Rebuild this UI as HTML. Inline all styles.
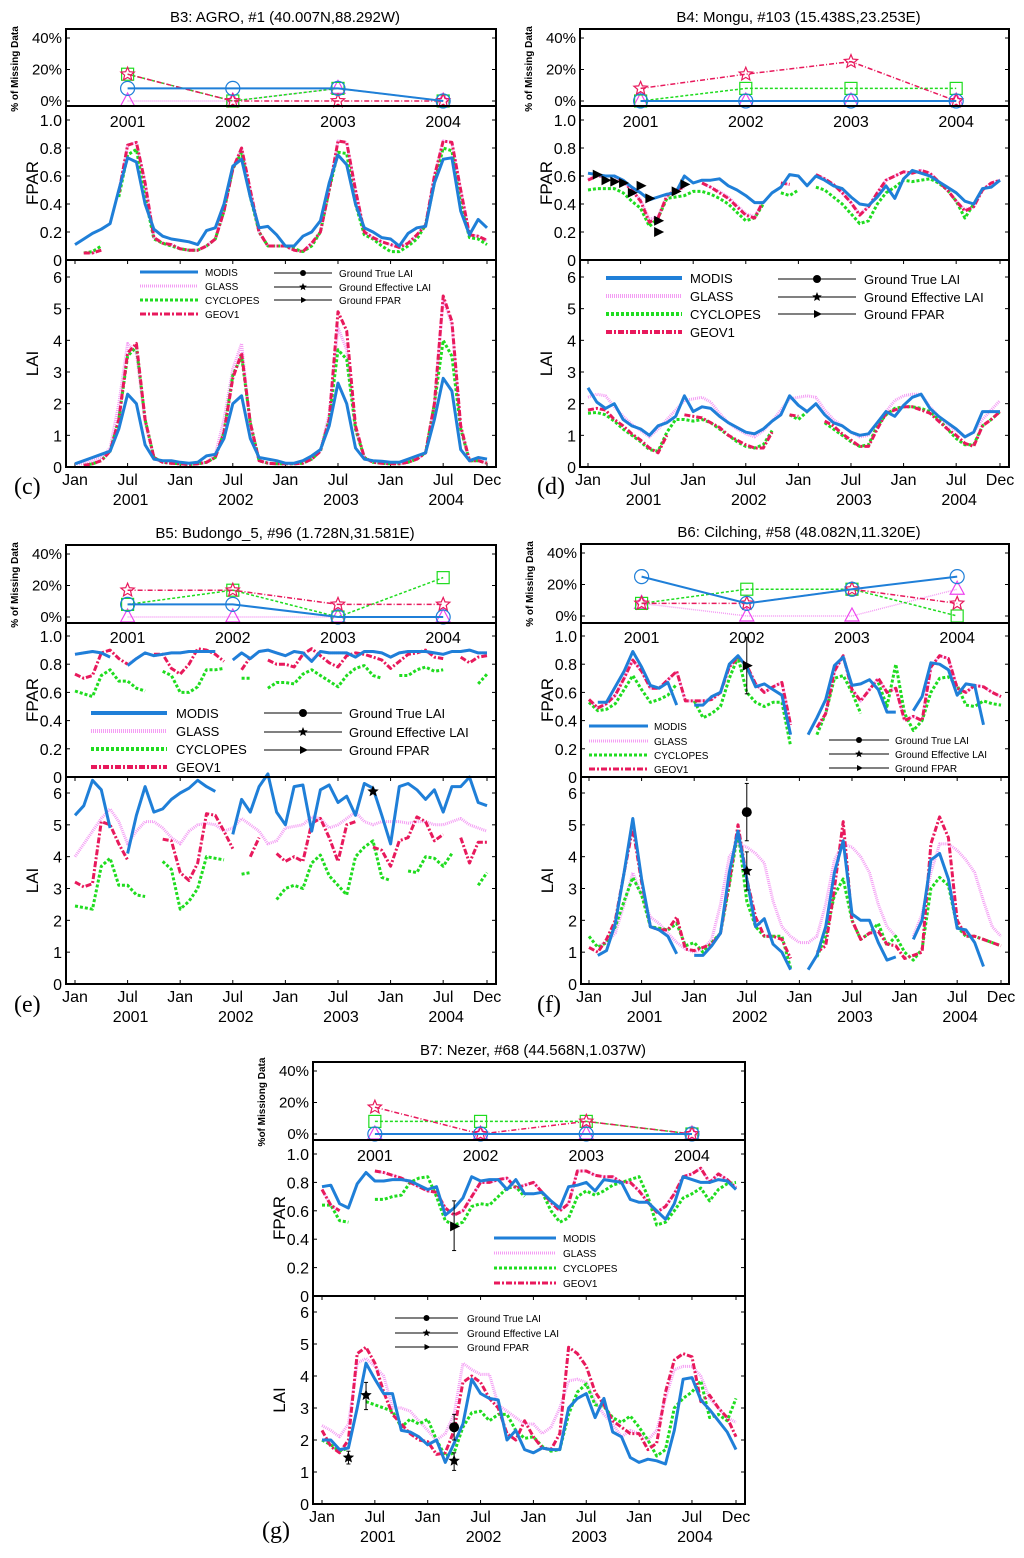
<!DOCTYPE html>
<html><head><meta charset="utf-8"><style>
html,body{margin:0;padding:0;background:#fff;}
svg{display:block;font-family:"Liberation Sans",Arial,sans-serif;}
</style></head><body>
<svg id="fig" width="1024" height="1558" viewBox="0 0 1024 1558" xmlns="http://www.w3.org/2000/svg"></svg>
<script>
// ---------- shared tick labels ----------
const monthLabels = ['Jan','Jul','Jan','Jul','Jan','Jul','Jan','Jul','Dec'];
const monthIdx = [0,6,12,18,24,30,36,42,47];
const yearLabels = ['2001','2002','2003','2004'];
const fparTicks = [0,0.2,0.4,0.6,0.8,1.0];
const fparTickLabels = ['0','0.2','0.4','0.6','0.8','1.0'];
const laiTicks = [0,1,2,3,4,5,6];
const laiTickLabels = ['0','1','2','3','4','5','6'];
const missTicks = [0,20,40];
const missTickLabels = ['0%','20%','40%'];
const seriesNames = ['MODIS','GLASS','CYCLOPES','GEOV1'];
const groundNames = ['Ground True LAI','Ground Effective LAI','Ground FPAR'];
const N = null;

// ---------- panel (c) B3 AGRO ----------
const c_miss_modis=[8,8,8,0], c_miss_glass=[0,0,8,0], c_miss_cyc=[17,0,8,0], c_miss_geo=[17,0,0,0];
const c_fpar_modis=[.11,.15,.19,.22,.26,.5,.73,.7,.4,.22,.17,.15,.14,.13,.11,.21,.23,.4,.67,.72,.45,.23,.24,.18,.1,.1,.17,.2,.28,.55,.75,.68,.4,.23,.2,.16,.15,.1,.19,.23,.24,.55,.72,.73,.35,.18,.29,.23];
const c_fpar_glass=[N,.05,.05,.07,N,.48,.82,.84,.55,.16,.12,.11,.08,.07,.07,.1,.15,.35,.65,.8,.5,.2,.1,.1,.1,.07,.06,.12,.2,.5,.85,.84,.5,.2,.16,.13,.11,.09,.12,.18,.25,.6,.85,.84,.5,.18,.17,.14];
const c_fpar_cyc=[N,.05,.06,.1,N,.45,.75,.79,.45,.15,.12,.1,.08,.07,.07,.1,.15,.35,.65,.77,.45,.2,.1,.1,.1,.08,.06,.1,.2,.5,.77,.76,.4,.18,.15,.1,.06,.06,.1,.15,.25,.55,.8,.78,.4,.16,.15,.11];
const c_fpar_geo=[N,.05,.05,.07,N,.48,.82,.84,.55,.16,.12,.11,.08,.07,.07,.1,.15,.35,.65,.8,.5,.2,.1,.1,.1,.07,.06,.12,.2,.5,.85,.84,.5,.2,.16,.13,.11,.09,.12,.18,.25,.6,.85,.84,.5,.18,.17,.14];
const c_lai_modis=[.1,.2,.3,.4,.5,1.2,2.3,2,.7,.25,.2,.2,.15,.12,.15,.35,.4,.9,2,2.25,.9,.3,.25,.2,.12,.12,.2,.35,.55,1.3,2.65,2,.6,.25,.2,.18,.15,.15,.25,.35,.45,1.5,2.8,2.4,.55,.2,.3,.25];
const c_lai_glass=[.1,.1,.2,.3,.6,2,3.9,3.6,1.4,.3,.15,.12,.1,.08,.1,.15,.4,1.5,3.1,3.9,1.3,.2,.12,.1,.1,.1,.12,.25,.5,1.7,4.4,3.7,1.2,.3,.15,.12,.1,.1,.15,.25,.45,2,5.3,4.5,1.2,.2,.2,.12];
const c_lai_cyc=[N,.05,.1,.2,.5,1.5,3.5,3.8,1.5,.3,.15,.12,.1,.08,.1,.15,.3,1.1,2.9,3.5,1.4,.2,.12,.1,.1,.1,.12,.25,.5,1.5,3.7,3.4,1.2,.3,.15,.12,.1,.1,.15,.25,.45,2,4,3.5,1.2,.2,.2,.12];
const c_lai_geo=[N,.05,.1,.2,.5,1.5,3.6,3.9,1.5,.3,.15,.12,.1,.08,.1,.15,.3,1.1,2.8,3.6,1.4,.2,.12,.1,.1,.1,.12,.25,.5,1.5,4.9,4.3,1.3,.3,.15,.12,.1,.1,.15,.25,.45,2,5.4,4.6,1.3,.2,.2,.12];

// ---------- panel (d) B4 Mongu ----------
const d_miss_modis=[0,0,0,0], d_miss_glass=[0,0,0,0], d_miss_cyc=[0,8,8,8], d_miss_geo=[8,17,25,0];
const d_fpar_modis=[.62,.61,.6,.6,.57,.52,.48,.43,.45,.47,.48,.6,.55,.57,.57,.58,.53,.5,.46,.41,.41,.48,.52,.61,.6,.53,.6,.57,.53,.51,.45,.4,.39,.45,.53,.44,.58,.64,.62,.6,.56,.52,.48,.42,.4,.51,.52,.57];
const d_fpar_glass=[.58,.6,.6,.6,.56,.5,.43,.29,.31,.46,.5,.52,N,.55,.52,.49,.45,.39,.33,.31,.42,N,.55,.54,N,N,.61,.58,.54,.48,.41,.33,.38,.48,.57,.6,.63,.62,.64,.62,.56,.5,.42,.36,.38,.5,.55,.57];
const d_fpar_cyc=[.5,.51,.51,.51,.48,.42,.37,.24,.3,.44,.45,.46,.49,.49,.47,.44,.4,.34,.28,.3,.4,N,.48,.46,.5,N,.52,.5,.45,.4,.33,.26,.28,.4,.48,.52,.57,.56,.57,.58,.55,.5,.42,.3,.4,N,N,N];
const d_fpar_geo=[.57,.6,.6,.6,.56,.5,.42,.27,.3,.46,.5,.52,N,.55,.52,.48,.44,.38,.32,.3,.42,N,.55,.54,N,N,.61,.58,.54,.48,.41,.32,.38,.48,.57,.6,.63,.62,.64,.62,.56,.5,.42,.35,.38,.5,.55,.57];
const d_lai_modis=[2.5,2.05,1.85,2,1.5,1.3,1.2,1,1.3,1.4,1.6,2.25,1.75,1.9,1.85,1.6,1.4,1.25,1.1,1.05,1.2,1.45,1.65,2.25,1.95,1.75,2,1.65,1.4,1.3,1.1,1,1.05,1.4,1.75,1.6,1.95,2.2,2.3,1.85,1.6,1.4,1.2,.95,1.1,1.75,1.75,1.75];
const d_lai_glass=[2.2,2.3,2.25,1.9,1.6,1.35,1.15,.95,1.2,1.5,1.8,2.1,2.15,2.2,2.05,1.7,1.4,1.2,1.05,.95,1.15,1.45,1.8,2.15,2.2,2.25,2.2,1.8,1.5,1.3,1.1,.95,1,1.4,1.75,2.1,2.25,2.3,2.3,1.9,1.6,1.35,1.15,.95,1.1,1.5,1.8,2.1];
const d_lai_cyc=[1.7,1.72,1.65,1.45,1.2,1,.8,.55,.5,1.1,1.5,1.5,1.45,1.5,1.4,1.2,1,.8,.65,.6,.7,1.15,N,1.65,1.5,1.75,N,1.4,1.2,1,.8,.65,.7,1.3,1.65,1.85,1.9,1.9,1.85,1.75,1.5,1.2,.9,.7,.7,1.3,1.5,1.75];
const d_lai_geo=[1.8,1.85,1.8,1.5,1.3,1.05,.85,.6,.45,1,N,1.65,1.6,1.55,1.4,1.25,1,.85,.7,.6,.6,1.1,N,1.65,1.6,N,N,1.45,1.3,1.05,.85,.65,.65,1.2,1.7,1.8,1.9,1.9,1.8,1.7,1.45,1.2,1,.75,.65,1.3,1.5,1.75];
const d_gfpar_month=[1,2,3,4,5,6,7,8,8,10,11];
const d_gfpar_val=[.61,.57,.56,.55,.48,.53,.44,.28,.2,.49,.54];

// ---------- panel (e) B5 Budongo_5 ----------
const e_miss_modis=[8,8,0,0], e_miss_glass=[0,0,0,0], e_miss_cyc=[8,17,0,25], e_miss_geo=[17,17,8,8];
const e_fpar_modis=[.87,.88,.89,.88,.85,N,.79,.84,.88,.86,.87,.88,.88,.89,.89,.89,.89,N,.83,.88,.84,.89,.9,.88,.86,.89,.88,.82,.89,.88,.88,.88,.85,.89,.89,.88,.85,.88,.89,.89,.89,.88,.87,.89,.89,.9,.88,.88];
const e_fpar_glass=[.87,.88,.89,.88,.85,N,.8,.84,.88,.86,.87,.88,.88,.89,.89,.89,.89,N,.83,.88,.84,.89,.9,.88,.86,.89,.88,.83,.89,.88,.88,.88,.85,.89,.89,.88,.85,.88,.89,.89,.89,.88,.87,.89,.89,.9,.88,.88];
const e_fpar_cyc=[.61,.59,.57,.72,.76,.68,.68,.63,.61,N,.75,.72,.6,.6,.64,.76,.76,.77,N,.7,.7,N,.63,.67,.67,.66,.73,.76,.72,.68,.64,.72,.77,.79,.72,.7,N,.72,.72,.76,.78,.75,.76,N,N,N,.66,.73];
const e_fpar_geo=[.73,.7,.72,.88,.9,.84,.8,N,N,.87,.87,.77,.73,.8,.91,.9,.87,.82,N,.76,.85,N,.83,.8,.8,.78,.87,.91,.86,.81,.78,.86,.88,.87,.85,.83,.77,.82,.87,.88,.9,.85,.84,N,.85,.81,.85,.86];
const e_lai_modis=[5.3,5.6,6.4,6.1,4.9,N,4.1,5.3,6.2,5.4,5.5,5.8,6,6.15,6.4,6.2,6.05,N,4.7,5.8,5.4,6.2,6.6,5.4,5,6.2,6.25,4.8,6.1,6.25,5.7,5.9,5.3,6.3,6.15,5.3,4.4,6.2,6.3,6.1,5.8,6.1,5.4,6.2,6.2,6.5,5.7,5.6];
const e_lai_glass=[4,4.4,4.8,5.2,5.5,5.1,4.4,4.8,5.1,5.1,4.9,4.6,4.4,4.8,5,5.05,5,4.8,4.9,5.2,5,4.8,4.4,4.5,4.9,4.95,5,5.25,5.2,4.9,5,5.2,5.4,5.1,5,5.1,5.1,5.1,5.05,5.1,5.1,5,5,5.1,5.2,5,4.9,4.8];
const e_lai_cyc=[2.45,2.4,2.35,3.7,3.95,3.1,3.1,2.8,2.75,N,3.85,3.6,2.35,2.6,3,4,3.95,3.9,N,3.45,3.5,N,N,2.65,3,3.1,3,3.8,4.05,3.4,3.1,2.8,4,4.3,4.5,3.35,3.25,N,3.55,3.5,4,3.95,3.7,4.1,N,N,3.1,3.5];
const e_lai_geo=[3.2,3.05,3.15,5.1,5,4.4,3.9,N,N,N,4.55,4.5,3.5,3.25,3.8,5.35,5.3,4.8,4.25,N,4,4.6,N,4.1,3.85,4,3.85,5.05,5.2,4.6,3.85,5,5.1,N,4.3,4.2,3.7,4.5,4.6,5.25,5.1,4.5,4.7,N,4.6,3.8,4.45,4.45];
const e_geff_month=[34], e_geff_val=[6.05];

// ---------- panel (f) B6 Cilching ----------
const f_miss_modis=[25,8,17,25], f_miss_glass=[8,0,0,17], f_miss_cyc=[8,17,17,0], f_miss_geo=[8,8,17,8];
const f_fpar_modis=[N,.53,.53,.64,.75,.89,.78,.65,.63,.67,.51,N,.51,.51,.57,.6,.8,.86,.78,.64,.66,.62,.58,.3,N,.3,.42,.55,.79,.85,.65,.66,.69,.62,.46,.46,N,.47,.57,.81,.8,.76,.58,.66,.65,.37,N,N];
const f_fpar_glass=[.55,.49,.52,.58,.7,.83,.75,.63,.63,.69,.75,.54,.54,.54,.55,.6,.78,.85,.79,.66,.6,.64,.67,.37,N,N,.35,.45,.75,.86,.62,.54,.62,.7,.6,.63,.4,.43,.4,.78,.86,.84,.63,.6,.65,.64,.6,.57];
const f_fpar_cyc=[.53,.47,.48,.52,.62,.72,.62,.53,.55,.58,.66,N,.54,.42,.45,.5,.7,.85,.6,.53,.5,.53,.53,.22,N,N,.3,.45,.7,.72,.6,.45,N,.67,.5,.8,.45,.33,.4,.6,.7,.71,.65,.51,.5,.54,.52,.51];
const f_fpar_geo=[.55,.49,.52,.58,.7,.83,.75,.63,.63,.69,.75,.54,.54,.54,.55,.6,.78,.85,.79,.66,.6,.64,.67,.37,N,N,.35,.45,.75,.86,.62,.54,.62,.7,.6,.63,.4,.43,.4,.78,.86,.84,.63,.6,.65,.64,.6,.57];
const f_lai_modis=[N,.9,1.05,1.9,3.5,5.2,3.3,1.8,1.7,1.5,.95,N,.9,.9,1.2,1.6,3.5,4.8,3.3,1.8,2.05,1.25,1,.45,N,.45,.9,1.8,3.5,4.5,2.2,2,2,1.3,.75,.85,N,1.4,2,3.9,4.1,3.3,1.75,1.7,1.3,.55,N,N];
const f_lai_glass=[N,1.2,1.3,1.6,2.5,3.5,2.8,2.1,1.9,1.6,1.3,1.1,1,1.1,1.4,2.5,4,4.4,4.3,4.1,3.8,2.6,1.8,1.5,1.3,1.3,1.5,2.5,3.9,4.4,4.3,4,3.5,2.5,1.8,1.5,N,1.5,2.2,3.5,4.4,4.4,4.2,3.9,3.5,2.6,1.8,1.5];
const f_lai_cyc=[1.5,1.15,1.3,1.8,2.6,3.35,2.8,1.8,1.75,1.7,1.9,1.2,1.3,1,1.3,1.6,3.1,4.8,2.6,1.8,1.5,1.5,1.5,.5,N,N,.85,1.5,2.8,3.3,2,1.4,1.6,1.9,1.2,1.5,1,.75,1.1,3,3.35,3.1,1.8,1.5,1.5,1.4,1.3,1.2];
const f_lai_geo=[1.15,1,1.4,2,3.5,4.9,3.2,1.8,1.7,1.7,2.1,1.1,1.05,1.15,1.25,1.6,3.2,5,3.3,2.1,1.5,1.5,1.4,.8,N,N,1,1.2,3,5.1,2,1.4,1.6,1.65,1.25,1.2,.8,.9,1,4.4,5.25,4.6,2,1.5,1.5,1.4,1.3,1.2];
const f_gtrue_month=[18], f_gtrue_val=[5.4], f_gtrue_lo=[4.5], f_gtrue_hi=[6.3];
const f_geff_month=[18], f_geff_val=[3.55], f_geff_lo=[2.95], f_geff_hi=[4.15];
const f_gfpar_month=[18], f_gfpar_val=[.79], f_gfpar_lo=[.59], f_gfpar_hi=[.99];

// ---------- panel (g) B7 Nezer ----------
const g_miss_modis=[0,0,0,0], g_miss_glass=[0,0,0,0], g_miss_cyc=[8,8,8,0], g_miss_geo=[17,0,8,0];
const g_fpar_modis=[.77,.78,.65,.62,.79,.87,.81,.81,.82,.82,.81,.78,.75,.77,.57,.62,.69,.84,.81,.82,.82,.75,.82,.72,.72,.73,.67,.62,.77,.78,.8,.74,.82,.81,.8,.68,.66,.66,.6,.54,.65,.84,.82,.8,.8,.82,.81,.75];
const g_fpar_glass=[.75,.64,.6,N,N,N,.88,.87,.85,.83,.8,.77,.74,.73,.62,.57,.6,.7,.8,.8,.82,.83,.76,.78,.8,.73,.66,.6,.65,.88,.88,.85,.84,.84,.8,.8,.74,.66,.59,.63,.72,.84,.86,.9,.8,.86,.82,.76];
const g_fpar_cyc=[.64,.64,.53,.52,N,N,.68,.68,.7,.71,.8,.83,.84,.7,.53,.5,.52,.63,.65,.64,.7,.76,.77,.7,N,.73,.6,.52,.55,.7,.74,.71,.74,.78,.8,.82,.84,.7,.5,.52,.6,.69,.72,.76,.67,.75,.79,.8];
const g_fpar_geo=[.75,.64,.6,N,N,N,.88,.87,.85,.83,.8,.77,.74,.73,.62,.57,.6,.7,.8,.8,.82,.83,.76,.78,.8,.73,.66,.6,.65,.88,.88,.85,.84,.84,.8,.8,.74,.66,.59,.63,.72,.84,.86,.9,.8,.86,.82,.76];
const g_lai_modis=[2,2,1.7,1.75,3,4.4,3.9,3.45,3.45,2.3,2.25,2.1,1.85,2,1.3,1.9,2.5,3.9,3.45,3.3,3.25,2,2.3,1.7,1.6,1.75,1.7,1.7,3,3.3,3.45,2.7,3.3,2.25,2.1,1.45,1.3,1.4,1.35,1.25,2.3,3.9,3.95,3.25,2.95,2.6,2.25,1.7];
const g_lai_glass=[2.45,2.3,2.1,2.5,4.4,4.55,4.3,4,3,3,2.9,2.6,2.3,2,2.2,2.8,4.4,4.2,4.05,4.05,3.1,2.9,2.7,2.5,2.5,2.2,2.4,3,3.85,3.9,3.8,3.2,2.8,2.5,2.1,2.3,2.2,2,2.3,3.3,4.2,4.3,4.3,4,3.3,3,2.7,2.55];
const g_lai_cyc=[2,1.85,1.65,1.75,N,3.2,3.1,3,2.9,2.4,2.65,2.5,2.65,2,1.5,1.6,2.4,2.85,2.9,2.6,2.8,2.8,2.3,2.05,2.1,1.8,1.65,1.7,2.8,3.5,3.75,3.1,3.05,2.7,2.55,2.75,2.4,2,1.5,1.7,3,3.3,3.5,3.85,2.7,2.8,2.6,3.3];
const g_lai_geo=[2.3,1.8,1.6,2,4.7,4.9,4.4,3.5,2.8,2.5,2.2,2,1.95,1.55,1.6,2.3,3.8,4,3.8,3.3,3,2.2,2,2.6,2.1,1.75,1.7,2.2,4.9,4.7,4.3,3.5,3.1,2.6,2.4,2.2,2.2,1.7,1.9,3.5,4.5,4.7,4.6,3.2,3.4,3,2.7,2.1];
const g_geff_month=[3,5,15], g_geff_val=[1.45,3.4,1.35], g_geff_lo=[1.25,2.95,1.05], g_geff_hi=[1.65,3.8,1.6];
const g_gtrue_month=[15], g_gtrue_val=[2.4], g_gtrue_lo=[2], g_gtrue_hi=[2.8];
const g_gfpar_month=[15], g_gfpar_val=[.49], g_gfpar_lo=[.32], g_gfpar_hi=[.67];

// ---------- rendering ----------
const svg=document.getElementById('fig');
const NS='http://www.w3.org/2000/svg';
function mk(tag,attrs,parent,text){const e=document.createElementNS(NS,tag);for(const k in attrs)e.setAttribute(k,attrs[k]);if(text!==undefined)e.textContent=text;(parent||svg).appendChild(e);return e;}
const STY=[
 {stroke:'#1f7fd8',w:3,dash:''},
 {stroke:'#f49cf4',w:3,dash:'1,1'},
 {stroke:'#1fdc1f',w:3,dash:'3,2'},
 {stroke:'#e8195c',w:3,dash:'6,2,2,2'}
];
function pathFrom(vals,xf,yf){let d='',pen=false;vals.forEach((v,i)=>{if(v===null||v===undefined){pen=false;return;}d+=(pen?'L':'M')+xf(i).toFixed(1)+','+yf(v).toFixed(1);pen=true;});return d;}
function star(cx,cy,r){let p=[];for(let k=0;k<10;k++){const a=-Math.PI/2+k*Math.PI/5;const rr=k%2?r*0.45:r;p.push((cx+rr*Math.cos(a)).toFixed(1)+','+(cy+rr*Math.sin(a)).toFixed(1));}return p.join(' ');}

const panels=[
 {id:'c',title:'B3: AGRO, #1 (40.007N,88.292W)',L:66,R:496,T:29,hM:77,hF:154,hL:207,x0:75,x1:487,dF:91,dL:248,letter:[14,494],
  miss:[c_miss_modis,c_miss_glass,c_miss_cyc,c_miss_geo],fpar:[c_fpar_modis,c_fpar_glass,c_fpar_cyc,c_fpar_geo],lai:[c_lai_modis,c_lai_glass,c_lai_cyc,c_lai_geo],
  leg:{fs:10,x1:140,x2:198,tx:205,ys:[272,286,300,314]},gleg:{fs:10,x1:274,x2:332,tx:339,ys:[273,287,300]}},
 {id:'d',title:'B4: Mongu, #103 (15.438S,23.253E)',L:580,R:1009,T:29,hM:77,hF:154,hL:207,x0:588,x1:1000,dF:91,dL:248,letter:[537,494],
  miss:[d_miss_modis,d_miss_glass,d_miss_cyc,d_miss_geo],fpar:[d_fpar_modis,d_fpar_glass,d_fpar_cyc,d_fpar_geo],lai:[d_lai_modis,d_lai_glass,d_lai_cyc,d_lai_geo],
  leg:{fs:13,x1:606,x2:682,tx:690,ys:[278,296,314,332]},gleg:{fs:13,x1:778,x2:856,tx:864,ys:[279,297,314]},
  gfpar:{m:d_gfpar_month,v:d_gfpar_val}},
 {id:'e',title:'B5: Budongo_5, #96 (1.728N,31.581E)',L:66,R:496,T:545,hM:78,hF:154,hL:207,x0:75,x1:487,dF:91,dL:248,letter:[14,1012],
  miss:[e_miss_modis,e_miss_glass,e_miss_cyc,e_miss_geo],fpar:[e_fpar_modis,e_fpar_glass,e_fpar_cyc,e_fpar_geo],lai:[e_lai_modis,e_lai_glass,e_lai_cyc,e_lai_geo],
  leg:{fs:13,x1:91,x2:167,tx:176,ys:[713,731,749,767]},gleg:{fs:13,x1:264,x2:342,tx:349,ys:[713,732,750]},
  geff:{m:e_geff_month,v:e_geff_val}},
 {id:'f',title:'B6: Cilching, #58 (48.082N,11.320E)',L:581,R:1009,T:544,hM:79,hF:154,hL:207,x0:589,x1:1001,dF:92,dL:249,letter:[537,1012],
  miss:[f_miss_modis,f_miss_glass,f_miss_cyc,f_miss_geo],fpar:[f_fpar_modis,f_fpar_glass,f_fpar_cyc,f_fpar_geo],lai:[f_lai_modis,f_lai_glass,f_lai_cyc,f_lai_geo],
  leg:{fs:10,x1:589,x2:648,tx:654,ys:[726,741,755,769]},gleg:{fs:10,x1:829,x2:889,tx:895,ys:[740,754,768]},
  gtrue:{m:f_gtrue_month,v:f_gtrue_val,lo:f_gtrue_lo,hi:f_gtrue_hi},geff:{m:f_geff_month,v:f_geff_val,lo:f_geff_lo,hi:f_geff_hi},gfpar:{m:f_gfpar_month,v:f_gfpar_val,lo:f_gfpar_lo,hi:f_gfpar_hi}},
 {id:'g',title:'B7: Nezer, #68 (44.568N,1.037W)',L:313,R:745,T:1062,hM:78,hF:156,hL:208,x0:322,x1:736,dF:92,dL:250,letter:[262,1538],missLabel:'%of Missiong Data',
  miss:[g_miss_modis,g_miss_glass,g_miss_cyc,g_miss_geo],fpar:[g_fpar_modis,g_fpar_glass,g_fpar_cyc,g_fpar_geo],lai:[g_lai_modis,g_lai_glass,g_lai_cyc,g_lai_geo],
  leg:{fs:10,x1:494,x2:556,tx:563,ys:[1238,1253,1268,1283]},gleg:{fs:10,x1:395,x2:458,tx:467,ys:[1318,1333,1347]},
  gtrue:{m:g_gtrue_month,v:g_gtrue_val,lo:g_gtrue_lo,hi:g_gtrue_hi},geff:{m:g_geff_month,v:g_geff_val,lo:g_geff_lo,hi:g_geff_hi},gfpar:{m:g_gfpar_month,v:g_gfpar_val,lo:g_gfpar_lo,hi:g_gfpar_hi}}
];

function groundMark(g,type,x,y,r){
  if(type==='true')return mk('circle',{cx:x,cy:y,r:r,fill:'#000'},g);
  if(type==='eff')return mk('polygon',{points:star(x,y,r+1),fill:'#000'},g);
  return mk('polygon',{points:`${x-r+1},${y-r} ${x+r+1},${y} ${x-r+1},${y+r}`,fill:'#000'},g);
}
function drawGround(g,obj,type,xf,yf){
  if(!obj)return;
  obj.m.forEach((m,i)=>{
    const x=xf(m),y=yf(obj.v[i]);
    if(obj.lo){const y1=yf(obj.lo[i]),y2=yf(obj.hi[i]);
      mk('line',{x1:x,x2:x,y1:y1,y2:y2,stroke:'#000','stroke-width':1},g);
      mk('line',{x1:x-2,x2:x+2,y1:y1,y2:y1,stroke:'#000','stroke-width':1},g);
      mk('line',{x1:x-2,x2:x+2,y1:y2,y2:y2,stroke:'#000','stroke-width':1},g);}
    const el=groundMark(g,type,x,y,5);
    
    
  });
}

panels.forEach(p=>{
  const g=mk('g',{});
  
  
  const B0=p.T+p.hM, B1=B0+p.hF, B2=B1+p.hL;
  const xf=i=>p.x0+(p.x1-p.x0)*i/47;
  const yM=v=>p.T+72-v/40*63;
  const yF=v=>B1-v*(B1-(p.T+p.dF));
  const yL=v=>B2-v/6*(B2-(p.T+p.dL));
  const cx=(p.L+p.R)/2;
  const t=mk('text',{x:cx+4,y:p.T-7,'text-anchor':'middle','font-size':15},g,p.title);
  
  
  // clip
  const cid='clip'+p.id;
  const cp=mk('clipPath',{id:cid},g);mk('rect',{x:p.L,y:p.T,width:p.R-p.L,height:B2-p.T},cp);
  // left ticks labels
  missTicks.forEach((v,i)=>{mk('text',{x:p.L-4,y:yM(v)+5,'text-anchor':'end','font-size':15},g,missTickLabels[i]);
    mk('line',{x1:p.L,x2:p.L+4,y1:yM(v),y2:yM(v),stroke:'#000'},g);mk('line',{x1:p.R,x2:p.R-4,y1:yM(v),y2:yM(v),stroke:'#000'},g);});
  fparTicks.forEach((v,i)=>{mk('text',{x:p.L-4,y:yF(v)+6,'text-anchor':'end','font-size':16},g,fparTickLabels[i]);
    mk('line',{x1:p.L,x2:p.L+4,y1:yF(v),y2:yF(v),stroke:'#000'},g);mk('line',{x1:p.R,x2:p.R-4,y1:yF(v),y2:yF(v),stroke:'#000'},g);});
  laiTicks.forEach((v,i)=>{mk('text',{x:p.L-4,y:yL(v)+6,'text-anchor':'end','font-size':16},g,laiTickLabels[i]);
    mk('line',{x1:p.L,x2:p.L+4,y1:yL(v),y2:yL(v),stroke:'#000'},g);mk('line',{x1:p.R,x2:p.R-4,y1:yL(v),y2:yL(v),stroke:'#000'},g);});
  monthIdx.forEach((m,i)=>{const x=xf(m);mk('text',{x:x,y:B2+18,'text-anchor':'middle','font-size':16},g,monthLabels[i]);
    mk('line',{x1:x,x2:x,y1:B2,y2:B2-4,stroke:'#000'},g);mk('line',{x1:x,x2:x,y1:B1,y2:B1+4,stroke:'#000'},g);});
  yearLabels.forEach((yl,i)=>{const x=xf(6+12*i);
    mk('text',{x:x+3,y:B2+38,'text-anchor':'middle','font-size':16},g,yl);
    mk('text',{x:x,y:p.T+p.dF+7,'text-anchor':'middle','font-size':16},g,yl);});
  // axis titles
  const mx=p.L-48, my=p.T+40;
  const ml=mk('text',{x:mx,y:my,'text-anchor':'middle','font-size':10,'font-weight':'bold',transform:`rotate(-90 ${mx} ${my})`},g,p.missLabel||'% of Missing Data');
  
  const fx=p.L-28, fy=(B0+B1)/2;
  const fl=mk('text',{x:fx,y:fy,'text-anchor':'middle','font-size':17,transform:`rotate(-90 ${fx} ${fy})`},g,'FPAR');
  
  const lx=p.L-28, ly=(B1+B2)/2;
  const ll=mk('text',{x:lx,y:ly,'text-anchor':'middle','font-size':17,transform:`rotate(-90 ${lx} ${ly})`},g,'LAI');
  
  const lt=mk('text',{x:p.letter[0],y:p.letter[1],'font-size':24,'font-family':'"Liberation Serif",serif'},g,'('+p.id+')');
  
  // series
  const sg=mk('g',{'clip-path':`url(#${cid})`},g);
  [1,2,3,0].forEach(k=>{const s=STY[k];
    const pf=mk('path',{d:pathFrom(p.fpar[k],xf,yF),fill:'none',stroke:s.stroke,'stroke-width':s.w,'stroke-dasharray':s.dash,'stroke-linejoin':'round'},sg);
    
    const pl=mk('path',{d:pathFrom(p.lai[k],xf,yL),fill:'none',stroke:s.stroke,'stroke-width':s.w,'stroke-dasharray':s.dash,'stroke-linejoin':'round'},sg);
    
  });
  // missing data
  const mcols=['#1f7fd8','#ee44ee','#1fdc1f','#e8195c'];
  [1,2,3,0].forEach(k=>{const s=STY[k];const vals=p.miss[k];const xm=i=>xf(6+12*i);
    const mp=mk('path',{d:pathFrom(vals,xm,yM),fill:'none',stroke:s.stroke,'stroke-width':k===0?2:1.5,'stroke-dasharray':k===0?'':(k===1?'1,1':(k===2?'3,2':'5,2,1,2'))},sg);
    
    vals.forEach((v,i)=>{const x=xm(i),y=yM(v);let e;
      if(k===0)e=mk('circle',{cx:x,cy:y,r:7,fill:'none',stroke:mcols[0],'stroke-width':1.2},sg);
      else if(k===1)e=mk('polygon',{points:`${x},${y-8} ${x+7},${y+5} ${x-7},${y+5}`,fill:'none',stroke:mcols[1],'stroke-width':1.2},sg);
      else if(k===2)e=mk('rect',{x:x-6,y:y-6,width:12,height:12,fill:'none',stroke:mcols[2],'stroke-width':1.2},sg);
      else e=mk('polygon',{points:star(x,y,7),fill:'none',stroke:mcols[3],'stroke-width':1.2},sg);
      });
  });
  // ground
  drawGround(g,p.gtrue,'true',xf,yL);
  drawGround(g,p.geff,'eff',xf,yL);
  drawGround(g,p.gfpar,'fpar',xf,yF);
  // boxes
  [[p.T,B0],[B0,B1],[B1,B2]].forEach(([a,b])=>mk('rect',{x:p.L,y:a,width:p.R-p.L,height:b-a,fill:'none',stroke:'#000','stroke-width':2},g));
  // legend
  const lg=mk('g',{},g);
  
  const L=p.leg;
  seriesNames.forEach((n,k)=>{const s=STY[k];const y=L.ys[k];
    const ln=mk('line',{x1:L.x1,x2:L.x2,y1:y,y2:y,stroke:s.stroke,'stroke-width':L.fs>11?4:3,'stroke-dasharray':s.dash},lg);
    
    const tx=mk('text',{x:L.tx,y:y+L.fs*0.38,'font-size':L.fs},lg,n);
    });
  const G=p.gleg;
  ['true','eff','fpar'].forEach((tp,k)=>{const y=G.ys[k];
    mk('line',{x1:G.x1,x2:G.x2,y1:y,y2:y,stroke:'#000','stroke-width':1},lg);
    groundMark(lg,tp,(G.x1+G.x2)/2,y,G.fs>11?4:3);
    const tx=mk('text',{x:G.tx,y:y+G.fs*0.38,'font-size':G.fs},lg,groundNames[k]);
    });
});
</script>
</body></html>
